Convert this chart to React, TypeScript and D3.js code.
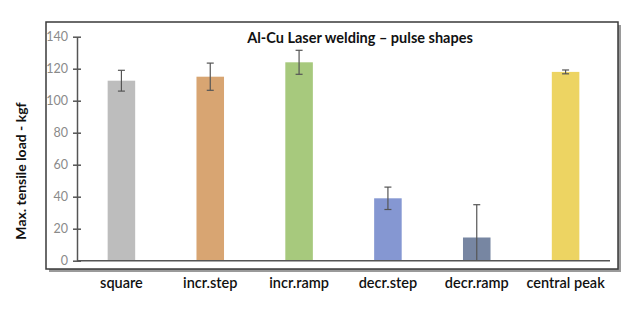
import { useEffect, useRef } from "react";
import * as d3 from "d3";

const categories = ["square", "incr.step", "incr.ramp", "decr.step", "decr.ramp", "central peak"];
const values = [112.5, 115, 124, 39, 14.5, 118];
const errors = [6.5, 8.5, 7.5, 7, 20.5, 1.2];
const colors = ["#bdbdbd", "#d8a572", "#a7c97d", "#8597d2", "#7786a2", "#edd462"];
const yTicks = [0, 20, 40, 60, 80, 100, 120, 140];

export default function App() {
  const svgRef = useRef<SVGSVGElement>(null);

  useEffect(() => {
    if (!svgRef.current) return;
    const width = 632;
    const height = 311;
    const svg = d3.select(svgRef.current);
    svg.selectAll("*").remove();

    const font = "Lato, 'Open Sans', sans-serif";

    // frame with drop shadow
    svg.append("rect")
      .attr("x", 49).attr("y", 25).attr("width", 572).attr("height", 247)
      .attr("fill", "#9a9a9a");
    svg.append("rect")
      .attr("x", 46).attr("y", 22).attr("width", 572).attr("height", 247)
      .attr("fill", "#fff").attr("stroke", "#3a3a3a").attr("stroke-width", 1.5);

    const x = d3.scaleBand<string>().domain(categories).range([77, 610]).paddingInner(0.69).paddingOuter(0.345);
    const y = d3.scaleLinear().domain([0, 140]).range([260.7, 36.7]);

    // bars
    svg.append("g")
      .selectAll("rect")
      .data(categories)
      .join("rect")
      .attr("x", (d) => x(d)!)
      .attr("width", x.bandwidth())
      .attr("y", (_, i) => y(values[i]))
      .attr("height", (_, i) => y(0) - y(values[i]))
      .attr("fill", (_, i) => colors[i]);

    // error bars
    const eb = svg.append("g").attr("stroke", "#555").attr("stroke-width", 1.2);
    categories.forEach((c, i) => {
      const cx = x(c)! + x.bandwidth() / 2;
      const hi = y(values[i] + errors[i]);
      const lowVal = values[i] - errors[i];
      const lo = y(Math.max(0, lowVal));
      eb.append("line").attr("x1", cx).attr("x2", cx).attr("y1", hi).attr("y2", lo);
      eb.append("line").attr("x1", cx - 3.5).attr("x2", cx + 3.5).attr("y1", hi).attr("y2", hi);
      if (lowVal > 0) {
        eb.append("line").attr("x1", cx - 3.5).attr("x2", cx + 3.5).attr("y1", lo).attr("y2", lo);
      }
    });

    // y axis
    const yAxis = svg.append("g")
      .attr("transform", "translate(77,0)")
      .call(d3.axisLeft(y).tickValues(yTicks).tickSizeInner(4).tickSizeOuter(0).tickPadding(5));
    yAxis.select(".domain").attr("stroke", "#555").attr("stroke-width", 1.5);
    yAxis.selectAll(".tick line").attr("stroke", "#555").attr("stroke-width", 1.5).attr("x2", 4).attr("x1", -4);
    yAxis.selectAll(".tick text")
      .attr("fill", "#8a8a8a").attr("font-size", 12.5).attr("font-family", font).attr("x", -9);

    // x axis line
    svg.append("line")
      .attr("x1", 77).attr("x2", 610).attr("y1", y(0)).attr("y2", y(0))
      .attr("stroke", "#555").attr("stroke-width", 1.5);

    // category labels
    svg.append("g")
      .selectAll("text")
      .data(categories)
      .join("text")
      .attr("x", (d) => x(d)! + x.bandwidth() / 2)
      .attr("y", 288)
      .attr("text-anchor", "middle")
      .attr("font-family", font)
      .attr("font-size", 14.5)
      .attr("font-weight", 600)
      .attr("fill", "#111")
      .text((d) => d);

    // title
    svg.append("text")
      .attr("x", 360).attr("y", 43)
      .attr("text-anchor", "middle")
      .attr("font-family", font).attr("font-size", 14.5).attr("font-weight", 700)
      .attr("fill", "#111")
      .text("Al-Cu Laser welding – pulse shapes");

    // y label
    svg.append("text")
      .attr("transform", "translate(26,171) rotate(-90)")
      .attr("text-anchor", "middle")
      .attr("font-family", font).attr("font-size", 14).attr("font-weight", 700)
      .attr("fill", "#111")
      .text("Max. tensile load - kgf");

    svg.attr("width", width).attr("height", height);
  }, []);

  return (
    <svg
      ref={svgRef}
      width={632}
      height={311}
      style={{ position: "absolute", left: 0, top: 0, background: "#fff" }}
    />
  );
}
